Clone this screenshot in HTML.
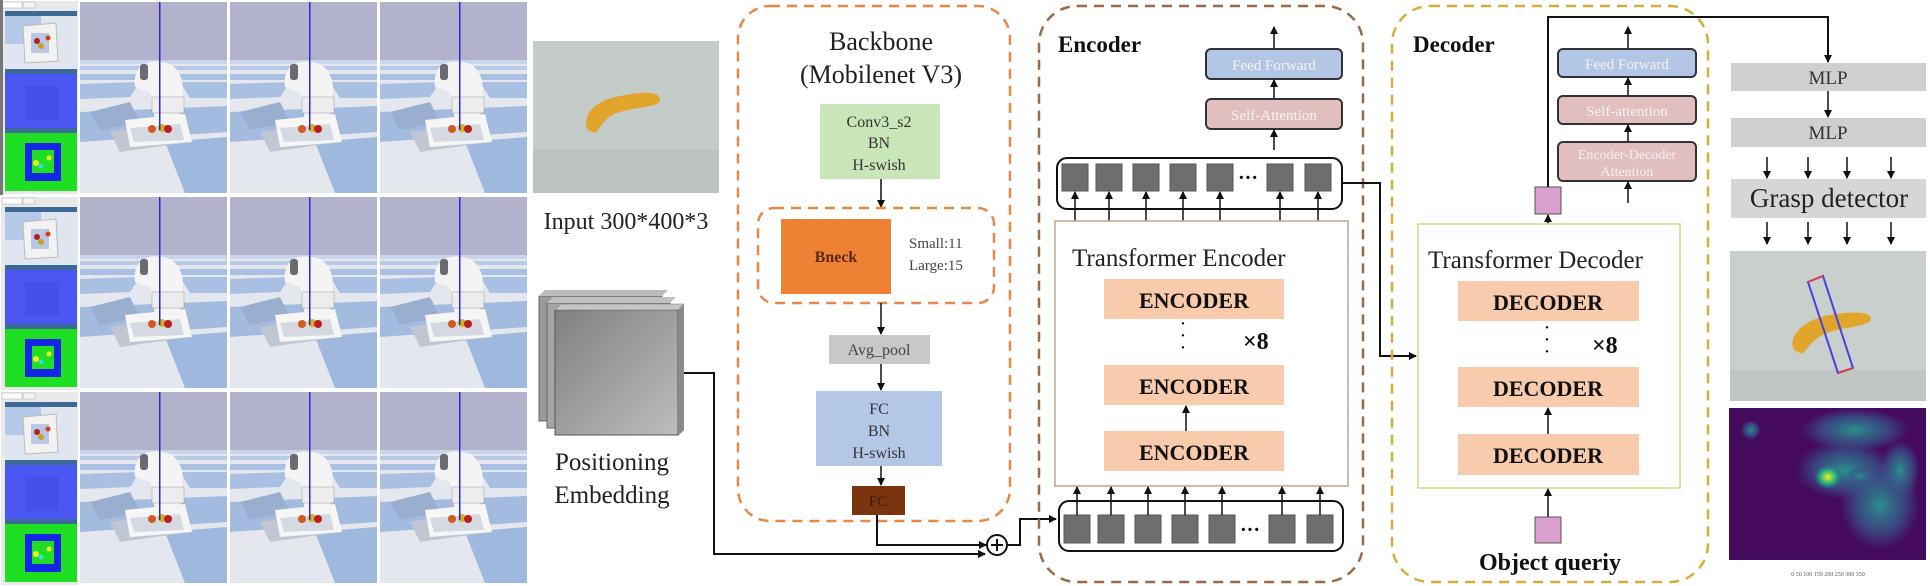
<!DOCTYPE html>
<html><head><meta charset="utf-8"><style>
html,body{margin:0;padding:0;background:#fff;}
svg{display:block;}
text{font-family:"Liberation Serif",serif;}
</style></head><body>
<svg width="1930" height="586" viewBox="0 0 1930 586" xmlns="http://www.w3.org/2000/svg">
<defs>
<marker id="ar" markerWidth="8" markerHeight="8" refX="7" refY="4" orient="auto" markerUnits="userSpaceOnUse"><path d="M0,0 L8,4 L0,8 z" fill="#111"/></marker>
<linearGradient id="pe" x1="0" y1="0" x2="1" y2="1"><stop offset="0" stop-color="#808080"/><stop offset="1" stop-color="#bdbdbd"/></linearGradient>
<radialGradient id="hm1" cx="0.5" cy="0.5" r="0.5"><stop offset="0" stop-color="#fde725"/><stop offset="0.3" stop-color="#7ad151"/><stop offset="0.6" stop-color="#22a884"/><stop offset="1" stop-color="#2a788e" stop-opacity="0"/></radialGradient>
<radialGradient id="hm2" cx="0.5" cy="0.5" r="0.5"><stop offset="0" stop-color="#2a8f8c"/><stop offset="0.6" stop-color="#355f8d" stop-opacity="0.7"/><stop offset="1" stop-color="#3b528b" stop-opacity="0"/></radialGradient>
<g id="scene">
<rect x="0" y="0" width="147" height="191" fill="#e4e7ee"/>
<rect x="0" y="0" width="147" height="58" fill="#b2b2cc"/>
<rect x="0" y="58" width="147" height="4" fill="#c9d5ea"/>
<rect x="0" y="64" width="147" height="4" fill="#b8cbe6"/>
<rect x="0" y="72" width="147" height="6" fill="#a9c0e3"/>
<polygon points="0,82 60,80 50,95 0,97" fill="#a9c0e3"/>
<polygon points="100,80 147,80 147,96 110,96" fill="#a9c0e3"/>
<polygon points="0,110 147,104 147,130 0,140" fill="#a4bbe0"/>
<polygon points="85,140 147,135 147,191 105,191" fill="#9fb8de"/>
<polygon points="10,110 50,100 60,120 20,128" fill="#9aaed0"/>
<polygon points="30,130 105,118 110,140 40,150" fill="#c0c6d2"/>
<polygon points="45,118 105,112 112,140 50,145" fill="#f6f6f6"/>
<polygon points="50,126 100,122 104,138 54,140" fill="#d5d9e2"/>
<path d="M55,85 C52,62 70,55 90,62 C100,68 105,80 102,95 L100,118 L75,118 L70,90 Z" fill="#f4f4f4"/>
<rect x="60" y="62" width="8" height="16" rx="3" fill="#6a6a70"/>
<rect x="72" y="95" width="32" height="16" fill="#ededed" stroke="#999" stroke-width="0.5"/>
<circle cx="72" cy="127" r="4" fill="#d25a20"/>
<circle cx="82" cy="126" r="4" fill="#d6b020"/>
<circle cx="88" cy="127" r="4" fill="#b82020"/>
<rect x="79" y="0" width="1.5" height="128" fill="#2a2ad8"/>
</g>
<g id="side">
<rect x="0" y="0" width="77" height="193" fill="#e9e9e9"/>
<rect x="1" y="1" width="20" height="6" fill="#fff" stroke="#aaa" stroke-width="0.5"/>
<rect x="22" y="1" width="12" height="6" fill="#f4f4f4" stroke="#aaa" stroke-width="0.5"/>
<rect x="4" y="10" width="72" height="5" fill="#3b6a99"/>
<rect x="4" y="15" width="72" height="53" fill="#dfe6f0"/>
<rect x="4" y="15" width="36" height="28" fill="#b4c8e8"/>
<polygon points="22,25 55,22 57,60 24,62" fill="#f2f2f2" stroke="#bbb" stroke-width="1"/>
<rect x="30" y="32" width="18" height="20" fill="#b8c8e6"/>
<circle cx="36" cy="40" r="3" fill="#b02020"/><circle cx="40" cy="45" r="3" fill="#c8a020"/><circle cx="47" cy="37" r="2.5" fill="#d04010"/>
<rect x="4" y="68" width="72" height="5" fill="#3b6a99"/>
<rect x="4" y="73" width="72" height="54" fill="#4b57f2"/>
<rect x="24" y="85" width="34" height="34" fill="#4450e8"/>
<rect x="4" y="127" width="72" height="5" fill="#3b6a99"/>
<rect x="4" y="132" width="72" height="58" fill="#20df22"/>
<rect x="24" y="142" width="36" height="38" fill="#1626e6"/>
<rect x="31" y="149" width="22" height="23" fill="#20df22"/>
<circle cx="35" cy="162" r="3" fill="#f0f020"/><circle cx="48" cy="157" r="2.5" fill="#f0f020"/><circle cx="40" cy="165" r="2.5" fill="#30e0e0"/>
</g>
</defs>

<use href="#side" x="1" y="1"/>
<use href="#side" x="1" y="197"/>
<use href="#side" x="1" y="392"/>
<use href="#scene" x="80" y="2"/><use href="#scene" x="230" y="2"/><use href="#scene" x="380" y="2"/>
<use href="#scene" x="80" y="197"/><use href="#scene" x="230" y="197"/><use href="#scene" x="380" y="197"/>
<use href="#scene" x="80" y="392"/><use href="#scene" x="230" y="392"/><use href="#scene" x="380" y="392"/>
<rect x="0" y="0" width="3" height="195" fill="#777"/>

<!-- Input image -->
<rect x="533" y="41" width="186" height="152" fill="#c4cbc8"/>
<rect x="533" y="150" width="186" height="43" fill="#bcc2c0"/>
<path d="M589,131 C580,120 592,100 620,96 C640,92 660,90 660,100 C658,108 640,106 620,112 C605,116 600,128 596,133 Z" fill="#e2a52c"/>
<text x="626" y="229" font-size="24" text-anchor="middle" fill="#222">Input 300*400*3</text>

<!-- Positioning embedding -->
<rect x="539" y="296" width="123" height="125" fill="#9a9a9a" stroke="#666" stroke-width="1"/>
<polygon points="539,296 545,290 668,290 662,296" fill="#bbb"/>
<rect x="547" y="303" width="123" height="125" fill="#a5a5a5" stroke="#666" stroke-width="1"/>
<polygon points="547,303 553,297 676,297 670,303" fill="#c0c0c0"/>
<rect x="555" y="310" width="123" height="125" fill="url(#pe)" stroke="#555" stroke-width="1"/>
<polygon points="555,310 561,304 684,304 678,310" fill="#c5c5c5" stroke="#777" stroke-width="0.5"/>
<polygon points="678,310 684,304 684,430 678,436" fill="#8a8a8a"/>
<text x="612" y="470" font-size="25" text-anchor="middle" fill="#222">Positioning</text>
<text x="612" y="503" font-size="25" text-anchor="middle" fill="#222">Embedding</text>
<polyline points="684,373 714,373 714,554 985,554" fill="none" stroke="#111" stroke-width="2" marker-end="url(#ar)"/>

<!-- Backbone -->
<rect x="738" y="6" width="272" height="515" rx="32" fill="none" stroke="#e8874a" stroke-width="2.5" stroke-dasharray="10,7"/>
<text x="881" y="50" font-size="26" text-anchor="middle" fill="#222">Backbone</text>
<text x="881" y="83" font-size="26" text-anchor="middle" fill="#222">(Mobilenet V3)</text>
<rect x="820" y="104" width="120" height="75" fill="#c8e6b8"/>
<text x="879" y="127" font-size="16" text-anchor="middle" fill="#333">Conv3_s2</text>
<text x="879" y="148" font-size="16" text-anchor="middle" fill="#333">BN</text>
<text x="879" y="170" font-size="16" text-anchor="middle" fill="#333">H-swish</text>
<line x1="881" y1="179" x2="881" y2="207" stroke="#111" stroke-width="1.5" marker-end="url(#ar)"/>
<rect x="758" y="208" width="236" height="95" rx="16" fill="none" stroke="#e8874a" stroke-width="2.5" stroke-dasharray="10,7"/>
<rect x="781" y="219" width="110" height="75" fill="#ee8134"/>
<text x="836" y="262" font-size="16" text-anchor="middle" font-weight="bold" fill="#5a2a0a">Bneck</text>
<text x="909" y="248" font-size="15" fill="#444">Small:11</text>
<text x="909" y="270" font-size="15" fill="#444">Large:15</text>
<line x1="881" y1="303" x2="881" y2="334" stroke="#111" stroke-width="1.5" marker-end="url(#ar)"/>
<rect x="829" y="335" width="101" height="29" fill="#c8c8c8"/>
<text x="879" y="355" font-size="16" text-anchor="middle" fill="#444">Avg_pool</text>
<line x1="881" y1="364" x2="881" y2="390" stroke="#111" stroke-width="1.5" marker-end="url(#ar)"/>
<rect x="816" y="391" width="126" height="75" fill="#b4c7e7"/>
<text x="879" y="414" font-size="16" text-anchor="middle" fill="#333">FC</text>
<text x="879" y="436" font-size="16" text-anchor="middle" fill="#333">BN</text>
<text x="879" y="458" font-size="16" text-anchor="middle" fill="#333">H-swish</text>
<line x1="881" y1="466" x2="881" y2="485" stroke="#111" stroke-width="1.5" marker-end="url(#ar)"/>
<rect x="852" y="486" width="53" height="29" fill="#7a3510"/>
<text x="878" y="506" font-size="15" text-anchor="middle" fill="#3a1a08">FC</text>
<polyline points="877,515 877,545 986,545" fill="none" stroke="#111" stroke-width="2" marker-end="url(#ar)"/>
<circle cx="997" cy="545" r="10" fill="#fff" stroke="#111" stroke-width="2"/>
<line x1="991" y1="545" x2="1003" y2="545" stroke="#111" stroke-width="2"/>
<line x1="997" y1="539" x2="997" y2="551" stroke="#111" stroke-width="2"/>
<polyline points="1007,545 1020,545 1020,519 1056,519" fill="none" stroke="#111" stroke-width="2" marker-end="url(#ar)"/>

<!-- Encoder -->
<rect x="1039" y="6" width="324" height="576" rx="38" fill="none" stroke="#9b6a45" stroke-width="2.5" stroke-dasharray="10,7"/>
<text x="1058" y="52" font-size="23" font-weight="bold" fill="#111">Encoder</text>
<line x1="1274" y1="49" x2="1274" y2="27" stroke="#111" stroke-width="1.5" marker-end="url(#ar)"/>
<rect x="1206" y="49" width="136" height="30" rx="5" fill="#b4c6e6" stroke="#333" stroke-width="2"/>
<text x="1274" y="70" font-size="15" text-anchor="middle" fill="#f2f2f2" font-family="Liberation Sans">Feed Forward</text>
<line x1="1274" y1="99" x2="1274" y2="80" stroke="#111" stroke-width="1.5" marker-end="url(#ar)"/>
<rect x="1206" y="99" width="136" height="30" rx="5" fill="#e2bfbf" stroke="#333" stroke-width="2"/>
<text x="1274" y="120" font-size="15" text-anchor="middle" fill="#f2f2f2" font-family="Liberation Sans">Self-Attention</text>
<line x1="1274" y1="150" x2="1274" y2="130" stroke="#111" stroke-width="1.5" marker-end="url(#ar)"/>
<rect x="1057" y="158" width="285" height="51" rx="10" fill="#fff" stroke="#111" stroke-width="2"/>
<g fill="#6e6e6e" stroke="#555" stroke-width="1">
<rect x="1062" y="164" width="26" height="27"/><rect x="1096" y="164" width="26" height="27"/><rect x="1133" y="164" width="26" height="27"/><rect x="1170" y="164" width="26" height="27"/><rect x="1207" y="164" width="26" height="27"/><rect x="1267" y="164" width="26" height="27"/><rect x="1305" y="164" width="26" height="27"/>
</g>
<text x="1248" y="184" font-size="20" text-anchor="middle" font-weight="bold">···</text>
<g stroke="#111" stroke-width="1.5" marker-end="url(#ar)">
<line x1="1075" y1="221" x2="1075" y2="192"/><line x1="1109" y1="221" x2="1109" y2="192"/><line x1="1146" y1="221" x2="1146" y2="192"/><line x1="1183" y1="221" x2="1183" y2="192"/><line x1="1220" y1="221" x2="1220" y2="192"/><line x1="1280" y1="221" x2="1280" y2="192"/><line x1="1318" y1="221" x2="1318" y2="192"/>
</g>
<polyline points="1342,183 1380,183 1380,356 1416,356" fill="none" stroke="#111" stroke-width="2" marker-end="url(#ar)"/>
<rect x="1055" y="221" width="293" height="265" fill="#fff" stroke="#c9a08a" stroke-width="1.5"/>
<text x="1072" y="266" font-size="25" fill="#222">Transformer  Encoder</text>
<rect x="1104" y="279" width="180" height="40" fill="#f8cbad"/>
<text x="1194" y="308" font-size="22" font-weight="bold" text-anchor="middle" fill="#111">ENCODER</text>
<text x="1183" y="330" font-size="20" text-anchor="middle">·</text>
<text x="1183" y="342" font-size="20" text-anchor="middle">·</text>
<text x="1183" y="354" font-size="20" text-anchor="middle">·</text>
<text x="1243" y="349" font-size="24" font-weight="bold" fill="#111">×8</text>
<rect x="1104" y="365" width="180" height="40" fill="#f8cbad"/>
<text x="1194" y="394" font-size="22" font-weight="bold" text-anchor="middle" fill="#111">ENCODER</text>
<line x1="1186" y1="431" x2="1186" y2="406" stroke="#111" stroke-width="1.5" marker-end="url(#ar)"/>
<rect x="1104" y="431" width="180" height="40" fill="#f8cbad"/>
<text x="1194" y="460" font-size="22" font-weight="bold" text-anchor="middle" fill="#111">ENCODER</text>
<rect x="1059" y="501" width="284" height="50" rx="10" fill="#fff" stroke="#111" stroke-width="2"/>
<g fill="#6e6e6e" stroke="#555" stroke-width="1">
<rect x="1064" y="515" width="26" height="28"/><rect x="1098" y="515" width="26" height="28"/><rect x="1135" y="515" width="26" height="28"/><rect x="1172" y="515" width="26" height="28"/><rect x="1209" y="515" width="26" height="28"/><rect x="1269" y="515" width="26" height="28"/><rect x="1307" y="515" width="26" height="28"/>
</g>
<text x="1250" y="536" font-size="20" text-anchor="middle" font-weight="bold">···</text>
<g stroke="#111" stroke-width="1.5" marker-end="url(#ar)">
<line x1="1077" y1="515" x2="1077" y2="487"/><line x1="1111" y1="515" x2="1111" y2="487"/><line x1="1148" y1="515" x2="1148" y2="487"/><line x1="1185" y1="515" x2="1185" y2="487"/><line x1="1222" y1="515" x2="1222" y2="487"/><line x1="1282" y1="515" x2="1282" y2="487"/><line x1="1320" y1="515" x2="1320" y2="487"/>
</g>

<!-- Decoder -->
<rect x="1392" y="6" width="316" height="576" rx="38" fill="none" stroke="#d6ac3a" stroke-width="2.5" stroke-dasharray="10,7"/>
<text x="1413" y="52" font-size="23" font-weight="bold" fill="#111">Decoder</text>
<line x1="1628" y1="49" x2="1628" y2="27" stroke="#111" stroke-width="1.5" marker-end="url(#ar)"/>
<rect x="1558" y="49" width="138" height="28" rx="5" fill="#b4c6e6" stroke="#333" stroke-width="2"/>
<text x="1627" y="69" font-size="15" text-anchor="middle" fill="#f2f2f2" font-family="Liberation Sans">Feed Forward</text>
<line x1="1628" y1="96" x2="1628" y2="78" stroke="#111" stroke-width="1.5" marker-end="url(#ar)"/>
<rect x="1558" y="96" width="138" height="28" rx="5" fill="#e2bfbf" stroke="#333" stroke-width="2"/>
<text x="1627" y="116" font-size="15" text-anchor="middle" fill="#f2f2f2" font-family="Liberation Sans">Self-attention</text>
<line x1="1628" y1="142" x2="1628" y2="125" stroke="#111" stroke-width="1.5" marker-end="url(#ar)"/>
<rect x="1558" y="142" width="138" height="39" rx="5" fill="#e2bfbf" stroke="#333" stroke-width="2"/>
<text x="1627" y="159" font-size="14" text-anchor="middle" fill="#f2f2f2" font-family="Liberation Sans">Encoder-Decoder</text>
<text x="1627" y="176" font-size="14" text-anchor="middle" fill="#f2f2f2" font-family="Liberation Sans">Attention</text>
<line x1="1628" y1="203" x2="1628" y2="182" stroke="#111" stroke-width="1.5" marker-end="url(#ar)"/>
<polyline points="1548,187 1548,17 1828,17 1828,62" fill="none" stroke="#111" stroke-width="2" marker-end="url(#ar)"/>
<rect x="1535" y="187" width="26" height="27" fill="#d9a0d0" stroke="#555" stroke-width="1"/>
<line x1="1548" y1="224" x2="1548" y2="215" stroke="#111" stroke-width="1.5" marker-end="url(#ar)"/>
<rect x="1418" y="224" width="262" height="264" fill="#fff" stroke="#e2cd8a" stroke-width="1.5"/>
<text x="1428" y="268" font-size="25" fill="#222">Transformer  Decoder</text>
<rect x="1458" y="281" width="181" height="40" fill="#f8cbad"/>
<text x="1548" y="310" font-size="22" font-weight="bold" text-anchor="middle" fill="#111">DECODER</text>
<text x="1547" y="334" font-size="20" text-anchor="middle">·</text>
<text x="1547" y="346" font-size="20" text-anchor="middle">·</text>
<text x="1547" y="358" font-size="20" text-anchor="middle">·</text>
<text x="1592" y="353" font-size="24" font-weight="bold" fill="#111">×8</text>
<rect x="1458" y="367" width="181" height="40" fill="#f8cbad"/>
<text x="1548" y="396" font-size="22" font-weight="bold" text-anchor="middle" fill="#111">DECODER</text>
<line x1="1548" y1="434" x2="1548" y2="408" stroke="#111" stroke-width="1.5" marker-end="url(#ar)"/>
<rect x="1458" y="434" width="181" height="41" fill="#f8cbad"/>
<text x="1548" y="463" font-size="22" font-weight="bold" text-anchor="middle" fill="#111">DECODER</text>
<line x1="1548" y1="517" x2="1548" y2="489" stroke="#111" stroke-width="1.5" marker-end="url(#ar)"/>
<rect x="1535" y="517" width="26" height="26" fill="#d9a0d0" stroke="#555" stroke-width="1"/>
<text x="1550" y="570" font-size="24" font-weight="bold" text-anchor="middle" fill="#111">Object queriy</text>

<!-- Right column -->
<rect x="1731" y="63" width="195" height="28" fill="#cfcfcf"/>
<text x="1828" y="84" font-size="19" text-anchor="middle" fill="#333">MLP</text>
<line x1="1828" y1="91" x2="1828" y2="117" stroke="#111" stroke-width="1.5" marker-end="url(#ar)"/>
<rect x="1731" y="118" width="195" height="29" fill="#cfcfcf"/>
<text x="1828" y="139" font-size="19" text-anchor="middle" fill="#333">MLP</text>
<g stroke="#111" stroke-width="1.5" marker-end="url(#ar)">
<line x1="1767" y1="157" x2="1767" y2="178"/><line x1="1808" y1="157" x2="1808" y2="178"/><line x1="1847" y1="157" x2="1847" y2="178"/><line x1="1891" y1="157" x2="1891" y2="178"/>
<line x1="1767" y1="222" x2="1767" y2="244"/><line x1="1808" y1="222" x2="1808" y2="244"/><line x1="1847" y1="222" x2="1847" y2="244"/><line x1="1891" y1="222" x2="1891" y2="244"/>
</g>
<rect x="1731" y="179" width="195" height="39" fill="#d6d6d6"/>
<text x="1829" y="207" font-size="27" text-anchor="middle" fill="#222">Grasp detector</text>
<rect x="1730" y="251" width="196" height="150" fill="#c9cfcc"/>
<rect x="1730" y="370" width="196" height="31" fill="#bfc5c3"/>
<path d="M1794,350 C1788,338 1800,322 1825,316 C1845,312 1868,310 1871,318 C1872,326 1850,326 1830,332 C1815,336 1808,348 1802,354 Z" fill="#e2a52c"/>
<polygon points="1808,282 1823,276 1853,368 1838,373" fill="none" stroke="#4444dd" stroke-width="2"/>
<line x1="1808" y1="282" x2="1823" y2="276" stroke="#e04040" stroke-width="2"/>
<line x1="1838" y1="373" x2="1853" y2="368" stroke="#e04040" stroke-width="2"/>
<rect x="1729" y="408" width="197" height="152" fill="#440a5c"/>
<ellipse cx="1855" cy="430" rx="55" ry="22" fill="url(#hm2)"/>
<ellipse cx="1845" cy="470" rx="50" ry="30" fill="url(#hm2)"/>
<ellipse cx="1880" cy="505" rx="40" ry="45" fill="url(#hm2)"/>
<ellipse cx="1900" cy="470" rx="20" ry="30" fill="url(#hm2)"/>
<ellipse cx="1751" cy="430" rx="10" ry="10" fill="url(#hm2)"/>
<ellipse cx="1828" cy="477" rx="14" ry="12" fill="url(#hm1)"/>
<ellipse cx="1860" cy="476" rx="14" ry="9" fill="url(#hm2)"/>
<text x="1828" y="576" font-size="6" text-anchor="middle" fill="#555" font-family="Liberation Sans">0   50  100  150  200  250  300  350</text>
</svg>
</body></html>
